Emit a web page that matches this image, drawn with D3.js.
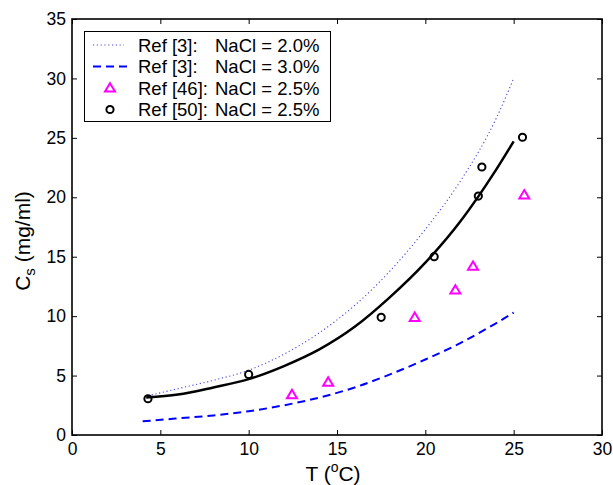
<!DOCTYPE html>
<html>
<head>
<meta charset="utf-8">
<script src="https://cdn.jsdelivr.net/npm/d3@7"></script>
<style>
  html, body { margin: 0; padding: 0; background: #fff; }
  svg { display: block; font-family: "Liberation Sans", Arial, Helvetica, sans-serif; }
</style>
</head>
<body>
<svg id="chart" width="613" height="485"></svg>
<script>
// Solubility C_s versus temperature T

// Ref [3] model curve, NaCl = 2.0%
const curve20T = [4.3, 6, 8, 10, 12, 14, 16, 18, 20, 22, 24, 25];
const curve20C = [3.3, 3.9, 4.6, 5.45, 6.8, 8.6, 10.9, 13.8, 17.3, 21.4, 26.6, 30.0];

// Ref [3] model curve, NaCl = 3.0%
const curve30T = [4.0, 6, 8, 10, 12, 14, 16, 18, 20, 22, 24, 25];
const curve30C = [1.15, 1.4, 1.65, 2.0, 2.5, 3.15, 4.0, 5.1, 6.35, 7.75, 9.4, 10.3];

// Fit through Ref [50] data, NaCl = 2.5%
const fit25T = [4.2, 6, 8, 10, 12, 14, 16, 18, 20, 22, 24, 25];
const fit25C = [3.15, 3.4, 4.0, 4.7, 5.8, 7.2, 9.1, 11.6, 14.5, 18.0, 22.3, 24.7];

// Ref [46] measurements, NaCl = 2.5%
const ref46T = [12.45, 14.5, 19.4, 21.7, 22.7, 25.6];
const ref46C = [3.4, 4.45, 9.9, 12.2, 14.2, 20.2];

// Ref [50] measurements, NaCl = 2.5%
const ref50T = [4.3, 10.0, 17.5, 20.5, 23.0, 23.2, 25.5];
const ref50C = [3.05, 5.1, 9.9, 15.0, 20.1, 22.55, 25.05];

const xTicks = [0, 5, 10, 15, 20, 25, 30];
const yTicks = [0, 5, 10, 15, 20, 25, 30, 35];

// Legend entries: source and salt concentration
const legendRefs = ["Ref [3]:", "Ref [3]:", "Ref [46]:", "Ref [50]:"];
const legendSalts = ["NaCl = 2.0%", "NaCl = 3.0%", "NaCl = 2.5%", "NaCl = 2.5%"];

const svg = d3.select("#chart");
const margin = { left: 72, right: 11, top: 19, bottom: 50 };
const W = 613, H = 485;
const x = d3.scaleLinear().domain([0, 30]).range([margin.left, W - margin.right]);
const y = d3.scaleLinear().domain([0, 35]).range([H - margin.bottom, margin.top]);

const zip = (a, b) => a.map((v, i) => [v, b[i]]);
const line = d3.line().x(d => x(d[0])).y(d => y(d[1])).curve(d3.curveMonotoneX);

const plot = svg.append("g");

// Curves
plot.append("path").datum(zip(curve20T, curve20C))
  .attr("d", line).attr("fill", "none")
  .attr("stroke", "#4b4bdc").attr("stroke-width", 1.1)
  .attr("stroke-dasharray", "1.2,2.6");

plot.append("path").datum(zip(curve30T, curve30C))
  .attr("d", line).attr("fill", "none")
  .attr("stroke", "#0000ff").attr("stroke-width", 2)
  .attr("stroke-dasharray", "8,5");

plot.append("path").datum(zip(fit25T, fit25C))
  .attr("d", line).attr("fill", "none")
  .attr("stroke", "#000").attr("stroke-width", 2.5);

// Markers
const triPath = "M0,-4.8L5,3.6L-5,3.6Z";
plot.selectAll(".tri").data(zip(ref46T, ref46C)).enter()
  .append("path").attr("class", "tri")
  .attr("d", triPath)
  .attr("transform", d => `translate(${x(d[0])},${y(d[1])})`)
  .attr("fill", "none").attr("stroke", "#ff00ff").attr("stroke-width", 2);

plot.selectAll(".circ").data(zip(ref50T, ref50C)).enter()
  .append("circle").attr("class", "circ")
  .attr("cx", d => x(d[0])).attr("cy", d => y(d[1])).attr("r", 3.6)
  .attr("fill", "none").attr("stroke", "#000").attr("stroke-width", 2);

// Axes with inward ticks on all four sides
const tickLen = 5;
const axes = svg.append("g");

const xb = axes.append("g").attr("transform", `translate(0,${y(0)})`)
  .call(d3.axisBottom(x).tickValues(xTicks).tickSize(-tickLen).tickPadding(8).tickFormat(d3.format("d")));
const xt = axes.append("g").attr("transform", `translate(0,${y(35)})`)
  .call(d3.axisTop(x).tickValues(xTicks).tickSize(-tickLen).tickFormat(""));
const yl = axes.append("g").attr("transform", `translate(${x(0)},0)`)
  .call(d3.axisLeft(y).tickValues(yTicks).tickSize(-tickLen).tickPadding(6).tickFormat(d3.format("d")));
const yr = axes.append("g").attr("transform", `translate(${x(30)},0)`)
  .call(d3.axisRight(y).tickValues(yTicks).tickSize(-tickLen).tickFormat(""));

[xb, xt, yl, yr].forEach(g => {
  g.select(".domain").remove();
  g.selectAll(".tick line").attr("stroke", "#000").attr("stroke-width", 1);
  g.selectAll(".tick text").attr("font-size", 17.5).attr("fill", "#000")
    .attr("font-family", "\"Liberation Sans\", Arial, sans-serif");
});

svg.append("rect")
  .attr("x", x(0)).attr("y", y(35))
  .attr("width", x(30) - x(0)).attr("height", y(0) - y(35))
  .attr("fill", "none").attr("stroke", "#000").attr("stroke-width", 1.6);

// Axis labels
const xlab = svg.append("text")
  .attr("x", (x(0) + x(30)) / 2 - 4).attr("y", 481)
  .attr("text-anchor", "middle").attr("font-size", 21);
xlab.append("tspan").text("T (");
xlab.append("tspan").text("o").attr("font-size", 14).attr("dy", -9);
xlab.append("tspan").text("C)").attr("dy", 9);

const ylab = svg.append("text")
  .attr("transform", `translate(30,${241}) rotate(-90)`)
  .attr("text-anchor", "middle").attr("font-size", 21);
ylab.append("tspan").text("C");
ylab.append("tspan").text("s").attr("font-size", 15).attr("dy", 5);
ylab.append("tspan").text(" (mg/ml)").attr("dy", -5);

// Legend
const lg = svg.append("g");
lg.append("rect").attr("x", 84.5).attr("y", 31.5).attr("width", 246).attr("height", 90)
  .attr("fill", "#fff").attr("stroke", "#000").attr("stroke-width", 1);

const rowY = [45, 66.5, 88, 109.5];
lg.append("line").attr("x1", 93).attr("x2", 124).attr("y1", rowY[0]).attr("y2", rowY[0])
  .attr("stroke", "#4b4bdc").attr("stroke-width", 1.1).attr("stroke-dasharray", "1.2,2.6");
lg.append("line").attr("x1", 93).attr("x2", 127).attr("y1", rowY[1]).attr("y2", rowY[1])
  .attr("stroke", "#0000ff").attr("stroke-width", 2).attr("stroke-dasharray", "8,5");
lg.append("path").attr("d", triPath).attr("transform", `translate(110,${rowY[2]})`)
  .attr("fill", "none").attr("stroke", "#ff00ff").attr("stroke-width", 2);
lg.append("circle").attr("cx", 110).attr("cy", rowY[3]).attr("r", 3.6)
  .attr("fill", "none").attr("stroke", "#000").attr("stroke-width", 2);

lg.selectAll(".lr").data(legendRefs).enter().append("text")
  .attr("class", "lr")
  .attr("x", 138).attr("y", (d, i) => rowY[i] + 6.5)
  .attr("font-size", 18.5)
  .text(d => d);
lg.selectAll(".ls").data(legendSalts).enter().append("text")
  .attr("class", "ls")
  .attr("x", 215).attr("y", (d, i) => rowY[i] + 6.5)
  .attr("font-size", 18.5)
  .text(d => d);
</script>
</body>
</html>
